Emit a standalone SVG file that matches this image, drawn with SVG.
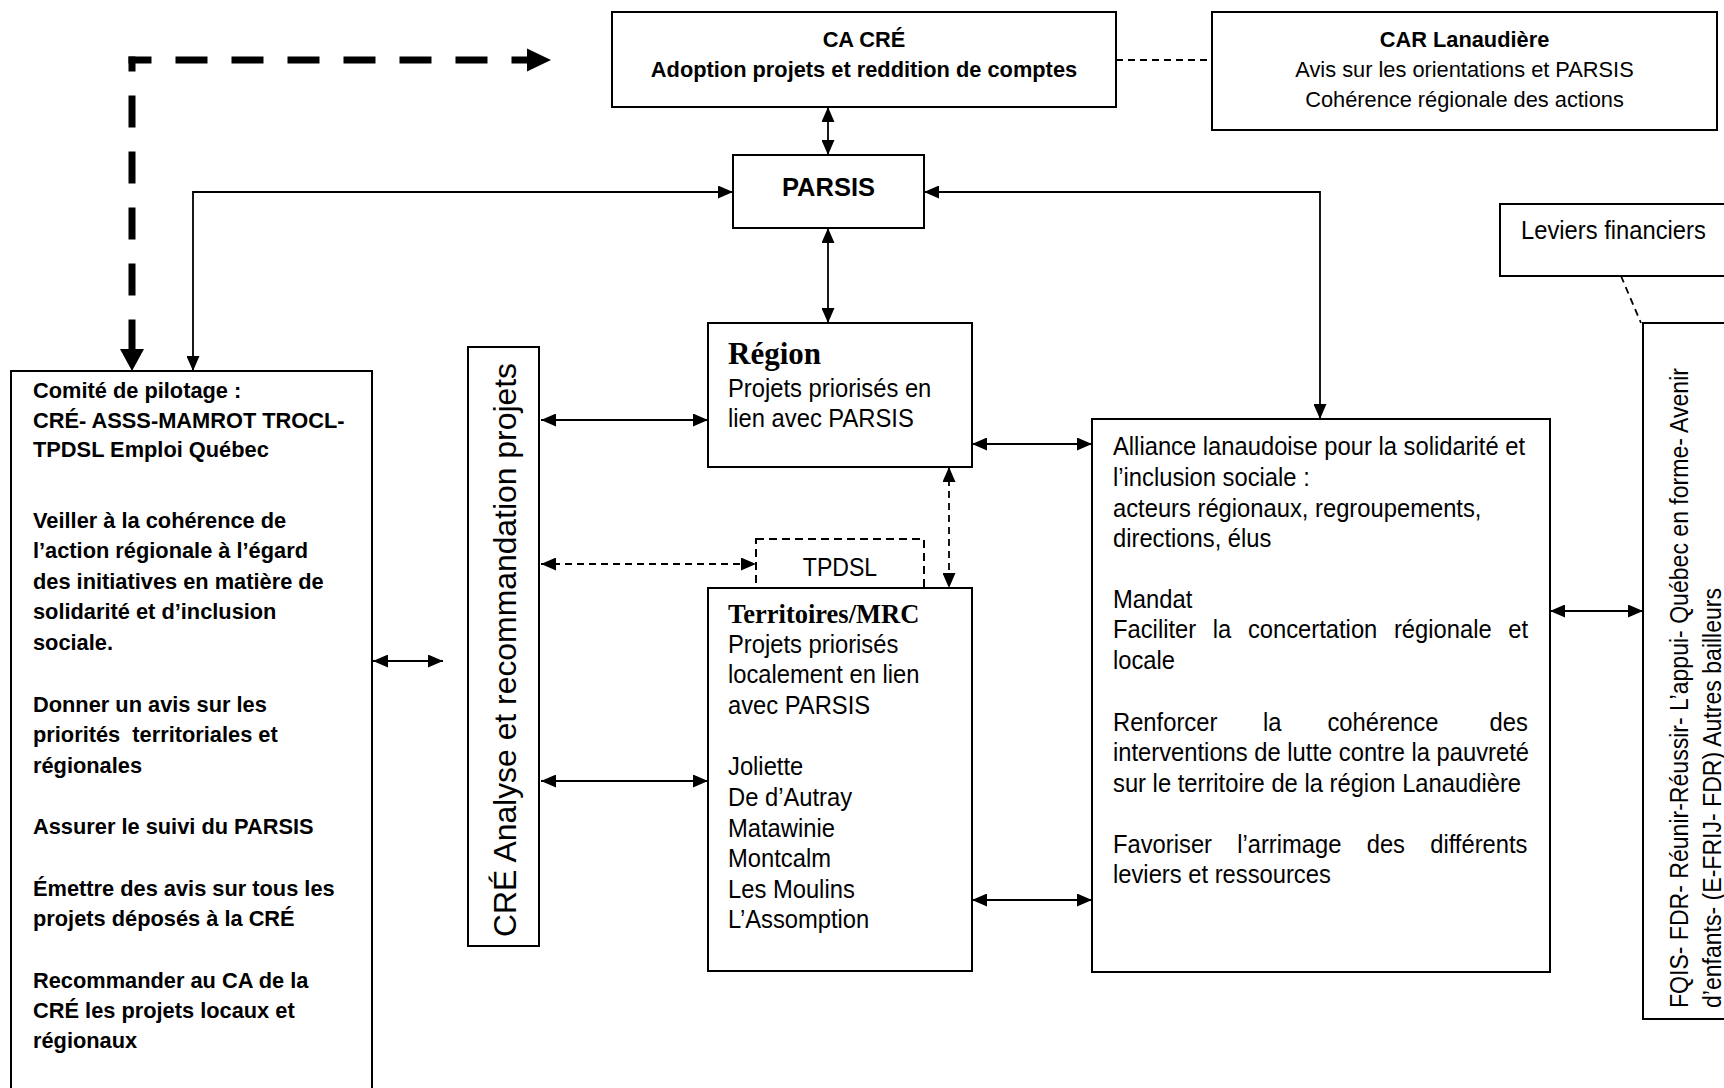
<svg xmlns="http://www.w3.org/2000/svg" width="1724" height="1088" viewBox="0 0 1724 1088">
<style>
.box{fill:#fff;stroke:#000;stroke-width:2}
.dbox{fill:#fff;stroke:#000;stroke-width:2;stroke-dasharray:8 5}
.ln{fill:none;stroke:#000;stroke-width:1.8}
.dl{stroke-dasharray:7 5}
.b{font-family:"Liberation Sans",Arial,sans-serif;font-weight:bold;font-size:21.8px;fill:#000}
.r{font-family:"Liberation Sans",Arial,sans-serif;font-size:21.8px;fill:#000}
.n{font-family:"Liberation Sans",Arial,sans-serif;font-size:26.5px;fill:#000}
.t{font-family:"Liberation Serif","Times New Roman",serif;font-weight:bold;fill:#000}
.thick{fill:none;stroke:#000;stroke-width:7;stroke-dasharray:32 24}
</style>
<defs>
<marker id="ah" markerUnits="userSpaceOnUse" markerWidth="15" markerHeight="13" refX="15" refY="6.5" orient="auto-start-reverse" viewBox="0 0 15 13">
<path d="M0,0 L15,6.5 L0,13 z" fill="#000"/>
</marker>
</defs>

<g id="connectors">
<path class="thick" d="M132,56.5 V349" stroke-dashoffset="17"/>
<path class="thick" d="M128.5,60 H527" stroke-dashoffset="9"/>
<polygon points="527,48.5 551,60 527,71.5" fill="#000"/>
<polygon points="120,349 144,349 132,371" fill="#000"/>
<path class="ln dl" d="M1116,60 H1212" stroke-dasharray="6 4"/>
<path class="ln dl" d="M1621,276 L1641,323"/>
<path class="ln" d="M828,107 V155" marker-start="url(#ah)" marker-end="url(#ah)"/>
<path class="ln" d="M828,228 V323" marker-start="url(#ah)" marker-end="url(#ah)"/>
<path class="ln" d="M193,371 V192 H733" marker-start="url(#ah)" marker-end="url(#ah)"/>
<path class="ln" d="M924,192 H1320 V419" marker-start="url(#ah)" marker-end="url(#ah)"/>
<path class="ln" d="M541,420 H708" marker-start="url(#ah)" marker-end="url(#ah)"/>
<path class="ln dl" d="M541,564 H756" marker-start="url(#ah)" marker-end="url(#ah)"/>
<path class="ln" d="M541,781 H708" marker-start="url(#ah)" marker-end="url(#ah)"/>
<path class="ln dl" d="M949,467 V588" marker-start="url(#ah)" marker-end="url(#ah)"/>
<path class="ln" d="M972,444 H1092" marker-start="url(#ah)" marker-end="url(#ah)"/>
<path class="ln" d="M972,900 H1092" marker-start="url(#ah)" marker-end="url(#ah)"/>
<path class="ln" d="M1550,611 H1643" marker-start="url(#ah)" marker-end="url(#ah)"/>
<path class="ln" d="M373,661 H443" marker-start="url(#ah)" marker-end="url(#ah)"/>
</g>

<g id="ca-cre">
<rect class="box" x="612" y="12" width="504" height="95"/>
<text class="b" x="864" y="47" text-anchor="middle">CA CRÉ</text>
<text class="b" x="864" y="77" text-anchor="middle">Adoption projets et reddition de comptes</text>
</g>

<g id="car">
<rect class="box" x="1212" y="12" width="505" height="118"/>
<text class="b" x="1464.5" y="47" text-anchor="middle">CAR Lanaudière</text>
<text class="r" x="1464.5" y="77" text-anchor="middle">Avis sur les orientations et PARSIS</text>
<text class="r" x="1464.5" y="107" text-anchor="middle">Cohérence régionale des actions</text>
</g>

<g id="parsis">
<rect class="box" x="733" y="155" width="191" height="73"/>
<text class="b" x="828.5" y="196" text-anchor="middle" font-size="25.5px" style="font-size:25.5px">PARSIS</text>
</g>

<g id="leviers">
<rect class="box" x="1500" y="204" width="240" height="72"/>
<text class="n" transform="matrix(0.897 0 0 1 1521 239)" x="0" y="0">Leviers financiers</text>
</g>

<g id="comite">
<rect class="box" x="11" y="371" width="361" height="740"/>
<text class="b">
<tspan x="33" y="398">Comité de pilotage :</tspan>
<tspan x="33" y="428">CRÉ- ASSS-MAMROT TROCL-</tspan>
<tspan x="33" y="457">TPDSL Emploi Québec</tspan>
<tspan x="33" y="528">Veiller à la cohérence de</tspan>
<tspan x="33" y="558">l’action régionale à l’égard</tspan>
<tspan x="33" y="589">des initiatives en matière de</tspan>
<tspan x="33" y="619">solidarité et d’inclusion</tspan>
<tspan x="33" y="650">sociale.</tspan>
<tspan x="33" y="712">Donner un avis sur les</tspan>
<tspan x="33" y="742" xml:space="preserve">priorités  territoriales et</tspan>
<tspan x="33" y="773">régionales</tspan>
<tspan x="33" y="834">Assurer le suivi du PARSIS</tspan>
<tspan x="33" y="896">Émettre des avis sur tous les</tspan>
<tspan x="33" y="926">projets déposés à la CRÉ</tspan>
<tspan x="33" y="988">Recommander au CA de la</tspan>
<tspan x="33" y="1018">CRÉ les projets locaux et</tspan>
<tspan x="33" y="1048">régionaux</tspan>
</text>
</g>

<g id="cre-analyse">
<rect class="box" x="468" y="347" width="71" height="599"/>
<text class="r" style="font-size:31px" transform="translate(516,937) rotate(-90)" x="0" y="0" textLength="574" lengthAdjust="spacingAndGlyphs">CRÉ Analyse et recommandation projets</text>
</g>

<g id="region">
<rect class="box" x="708" y="323" width="264" height="144"/>
<text class="t" x="728" y="364" style="font-size:31px">Région</text>
<text class="n" transform="matrix(0.897 0 0 1 728 0)">
<tspan x="0" y="397">Projets priorisés en</tspan>
<tspan x="0" y="427">lien avec PARSIS</tspan>
</text>
</g>

<g id="tpdsl">
<rect class="dbox" x="756" y="539" width="168" height="49"/>
<text class="n" transform="matrix(0.87 0 0 1 840 576)" x="0" y="0" text-anchor="middle">TPDSL</text>
</g>

<g id="territoires">
<rect class="box" x="708" y="588" width="264" height="383"/>
<text class="t" x="728" y="623" style="font-size:26.5px">Territoires/MRC</text>
<text class="n" transform="matrix(0.897 0 0 1 728 0)">
<tspan x="0" y="653">Projets priorisés</tspan>
<tspan x="0" y="683">localement en lien</tspan>
<tspan x="0" y="714">avec PARSIS</tspan>
<tspan x="0" y="775">Joliette</tspan>
<tspan x="0" y="806">De d’Autray</tspan>
<tspan x="0" y="837">Matawinie</tspan>
<tspan x="0" y="867">Montcalm</tspan>
<tspan x="0" y="898">Les Moulins</tspan>
<tspan x="0" y="928">L’Assomption</tspan>
</text>
</g>

<g id="alliance">
<rect class="box" x="1092" y="419" width="458" height="553"/>
<text class="n" transform="matrix(0.897 0 0 1 1113 0)">
<tspan x="0" y="455">Alliance lanaudoise pour la solidarité et</tspan>
<tspan x="0" y="486">l’inclusion sociale :</tspan>
<tspan x="0" y="517">acteurs régionaux, regroupements,</tspan>
<tspan x="0" y="547">directions, élus</tspan>
<tspan x="0" y="608">Mandat</tspan>
<tspan x="0" y="638">Faciliter</tspan><tspan x="111.3" y="638">la</tspan><tspan x="150.4" y="638">concertation</tspan><tspan x="313.2" y="638">régionale</tspan><tspan x="440.6" y="638">et</tspan>
<tspan x="0" y="669">locale</tspan>
<tspan x="0" y="731">Renforcer</tspan><tspan x="167.2" y="731">la</tspan><tspan x="239.1" y="731">cohérence</tspan><tspan x="419.8" y="731">des</tspan>
<tspan x="0" y="761">interventions de lutte contre la pauvreté</tspan>
<tspan x="0" y="792">sur le territoire de la région Lanaudière</tspan>
<tspan x="0" y="853">Favoriser</tspan><tspan x="138.4" y="853">l’arrimage</tspan><tspan x="282.8" y="853">des</tspan><tspan x="353.6" y="853">différents</tspan>
<tspan x="0" y="883">leviers et ressources</tspan>
</text>
</g>

<g id="bailleurs">
<rect class="box" x="1643" y="323" width="100" height="696"/>
<text class="n" transform="translate(1688,1008) rotate(-90) scale(0.87 1)" x="0" y="0">FQIS- FDR- Réunir-Réussir- L’appui- Québec en forme- Avenir</text>
<text class="n" transform="translate(1721,1008) rotate(-90) scale(0.87 1)" x="0" y="0">d’enfants- (E-FRIJ- FDR) Autres bailleurs</text>
</g>
</svg>
